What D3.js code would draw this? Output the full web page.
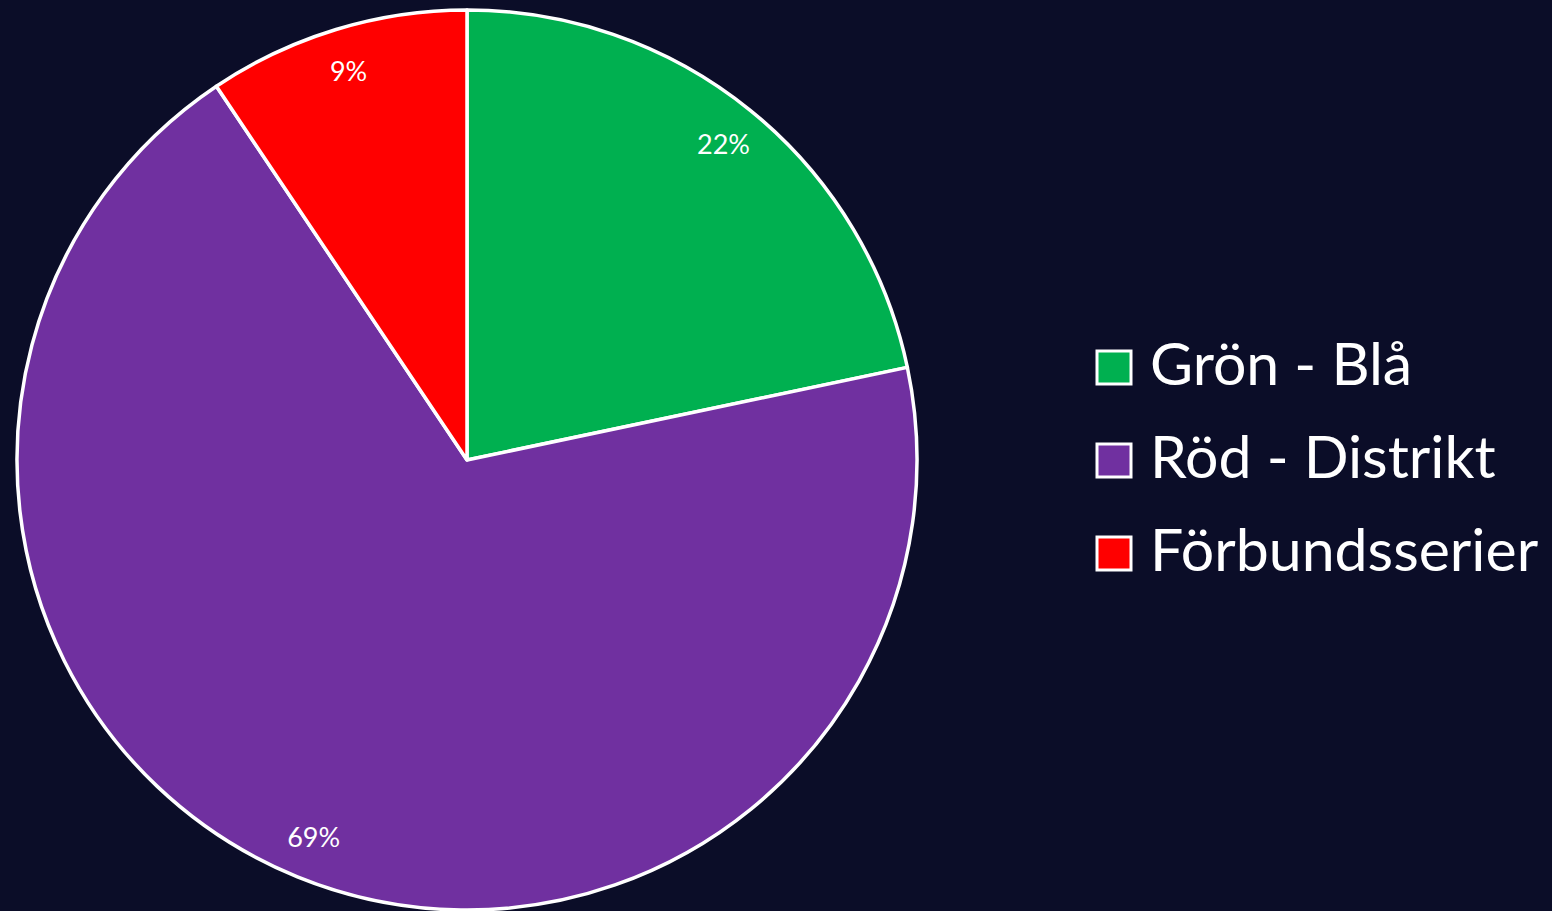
<!DOCTYPE html>
<html><head><meta charset="utf-8">
<script src="https://cdn.jsdelivr.net/npm/d3@7"></script>
<style>html,body{margin:0;padding:0;background:#0b0d28;overflow:hidden}</style>
</head><body>
<svg id="c" width="1552" height="911"></svg>
<script>
const categories = ["Grön - Blå", "Röd - Distrikt", "Förbundsserier"];
const values = [21.7, 68.9, 9.4];
const colors = ["#00b050", "#7030a0", "#ff0000"];

const svg = d3.select("#c");
const cx = 467, cy = 460, R = 450;
const total = d3.sum(values);
const data = categories.map((c, i) => ({cat: c, value: values[i], color: colors[i]}));
const pie = d3.pie().value(d => d.value).sort(null);
const arcs = pie(data);
const arc = d3.arc().innerRadius(0).outerRadius(R);
const labelArc = d3.arc().innerRadius(407).outerRadius(407);

const g = svg.append("g").attr("transform", `translate(${cx},${cy})`);
g.selectAll("path").data(arcs).join("path")
  .attr("d", arc).attr("fill", d => d.data.color)
  .attr("stroke", "#ffffff").attr("stroke-width", 3.5).attr("stroke-linejoin", "round");
g.selectAll("text").data(arcs).join("text")
  .attr("transform", d => `translate(${labelArc.centroid(d)})`)
  .attr("text-anchor", "middle").attr("dominant-baseline", "central")
  .attr("fill", "#ffffff").attr("font-family", "Lato, 'Open Sans', sans-serif").attr("font-size", 27)
  .text(d => Math.round(d.data.value / total * 100) + "%");

const leg = svg.append("g").attr("transform", "translate(1097,351)");
const rows = leg.selectAll("g").data(data).join("g")
  .attr("transform", (d, i) => `translate(0,${i * 93})`);
rows.append("rect").attr("x", 0).attr("y", 0).attr("width", 34).attr("height", 33)
  .attr("fill", d => d.color).attr("stroke", "#ffffff").attr("stroke-width", 3);
rows.append("text").attr("x", 53).attr("y", 34)
  .attr("fill", "#ffffff").attr("font-family", "Lato, 'Open Sans', sans-serif").attr("font-size", 59)
  .text(d => d.cat);
</script>
</body></html>
